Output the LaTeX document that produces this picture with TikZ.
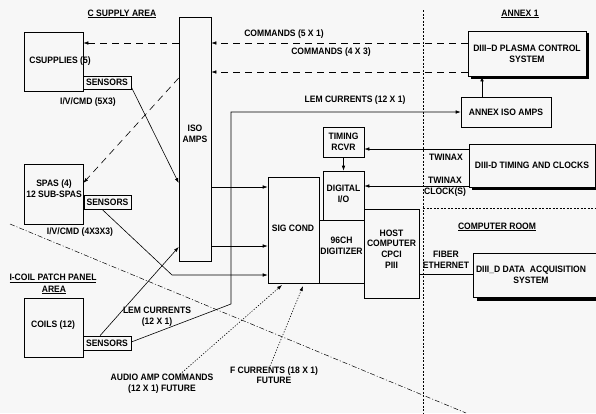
\documentclass[tikz,border=0pt]{standalone}
\usepackage{fontspec}
\setmainfont{Liberation Sans}[FakeStretch=0.92]
\usetikzlibrary{arrows.meta}
\begin{document}
\begin{tikzpicture}[x=1pt,y=-1pt,
  font=\fontsize{9.3}{10.6}\selectfont\bfseries,
  box/.style={draw, line width=0.6pt, inner sep=0pt, align=center},
  lbl/.style={inner sep=0pt, align=center},
  conn/.style={line width=0.6pt},
  arr/.style={conn, -{Latex[length=5pt,width=3.5pt]}},
  cmd/.style={arr, dash pattern=on 7pt off 5pt},
  fut/.style={arr, dash pattern=on 1.2pt off 1.6pt},
  region/.style={line width=0.5pt, dash pattern=on 2pt off 1.5pt},
  regiondiag/.style={line width=0.5pt, dash pattern=on 5pt off 2pt on 1pt off 2pt},
  shadowline/.style={line width=2.6pt}]
\fill[black!3] (0,0) rectangle (596,413);
\useasboundingbox (0,0) rectangle (596,413);

% region separators
\draw[region] (423,10) -- (423,413);
\draw[region] (423,208) -- (596,208);
\draw[regiondiag] (10,224) -- (466,413);

% area titles
\node[lbl] (tcsa) at (122,14) {\underline{C SUPPLY AREA}};
\node[lbl] (tann) at (520,14) {\underline{ANNEX 1}};
\node[lbl] (tcr) at (497,227) {\underline{COMPUTER ROOM}};
\node[lbl] (ticp) at (53,278) {\underline{I-COIL PATCH PANEL}};
\node[lbl] (ticp2) at (54,290) {\underline{AREA}};

% boxes
\node[box, minimum width=59pt, minimum height=59pt] (csup) at (53.5,61.5) {};
\node[lbl] (csupt) at (60,61) {CSUPPLIES (5)};
\node[box, minimum width=48pt, minimum height=13pt] (csens) at (107,82.5) {SENSORS};
\node[box, minimum width=32pt, minimum height=244pt] (iso) at (195,139) {};
\node[lbl] (isot) at (195,134) {ISO\\AMPS};
\node[box, minimum width=59pt, minimum height=60pt] (spas) at (53.5,194) {};
\node[lbl] (spast) at (54,188.5) {SPAS (4)\\12 SUB-SPAS};
\node[box, minimum width=47pt, minimum height=14pt] (ssens) at (107.5,202) {SENSORS};
\node[box, minimum width=59pt, minimum height=59pt] (coils) at (53.5,327.5) {};
\node[lbl] (coilst) at (53,325) {COILS (12)};
\node[box, minimum width=48pt, minimum height=14pt] (lsens) at (107,343) {SENSORS};
\node[box, minimum width=51pt, minimum height=106pt] (sig) at (293.5,230) {};
\node[lbl] (sigt) at (293,228) {SIG COND};
\node[box, minimum width=41pt, minimum height=30pt] (trcvr) at (343.5,142) {TIMING\\RCVR};
\node[box, minimum width=41pt, minimum height=49pt] (dio) at (343.5,195.5) {};
\node[lbl] (diot) at (343.5,194) {DIGITAL\\I/O};
\node[box, minimum width=45pt, minimum height=63pt] (dig) at (341.5,251.5) {};
\node[lbl] (digt) at (341.5,246) {96CH\\DIGITIZER};
\node[box, minimum width=55pt, minimum height=89pt] (host) at (391.5,253.5) {};
\node[lbl] (hostt) at (391.5,249) {HOST\\COMPUTER\\CPCI\\PIII};
\node[box, minimum width=118pt, minimum height=45pt] (pcs) at (527,53.5) {DIII--D PLASMA CONTROL\\SYSTEM};
\node[box, minimum width=90pt, minimum height=30pt] (aiso) at (506,112) {ANNEX ISO AMPS};
\node[box, minimum width=126pt, minimum height=43pt] (tclk) at (532,165.5) {DIII-D TIMING AND CLOCKS};
\node[box, minimum width=124pt, minimum height=44pt] (daq) at (535,275) {};
\node[lbl] (daqt) at (531,275) {DIII\_D DATA~~ACQUISITION\\SYSTEM};

% shadows
\draw[shadowline] (471,78) -- (588,78) -- (588,33);
\draw[shadowline] (472,189) -- (597,189);
\draw[shadowline] (477,299.5) -- (597,299.5);

% connector labels
\node[lbl] (lc5) at (284,34) {COMMANDS (5 X 1)};
\node[lbl] (lc4) at (331,52) {COMMANDS (4 X 3)};
\node[lbl] (liv1) at (88,102) {I/V/CMD (5X3)};
\node[lbl] (liv2) at (80,232) {I/V/CMD (4X3X3)};
\node[lbl] (llem1) at (355,100) {LEM CURRENTS (12 X 1)};
\node[lbl] (llem2) at (157,317) {LEM CURRENTS\\(12 X 1)};
\node[lbl] (ltw1) at (446,157) {TWINAX};
\node[lbl] (ltw2) at (445,186.5) {TWINAX\\CLOCK(S)};
\node[lbl] (lfib) at (446,260) {FIBER\\ETHERNET};
\node[lbl] (laud) at (162,384) {AUDIO AMP COMMANDS\\(12 X 1) FUTURE};
\node[lbl] (lfc) at (274,375) {F CURRENTS (18 X 1)\\FUTURE};

% connectors
\draw[cmd] (pcs.west |- 0,43) -- (iso.east |- 0,43);
\draw[cmd] (iso.west |- 0,43) -- (csup.east |- 0,43);
\draw[cmd] (pcs.west |- 0,72) -- (iso.east |- 0,72);
\draw[cmd] (iso.west |- 0,78) -- (spas.east |- 0,183);
\draw[arr] (csens.east |- 0,87) -- (iso.west |- 0,183);
\draw[arr] (ssens.south -| 102,0) -- (172,275) -- (sig.west |- 0,275);
\draw[arr] (iso.east |- 0,187) -- (sig.west |- 0,187);
\draw[arr] (iso.east |- 0,246) -- (sig.west |- 0,246);
\draw[arr] (lsens.north -| 100,0) -- (iso.west |- 0,247);
\draw[arr] (lsens.east |- 0,342) -- (231,304) -- (231,112) -- (aiso.west |- 0,112);
\draw[arr] (aiso.north -| 482,0) -- (pcs.south -| 482,0);
\draw[arr] (tclk.west |- 0,149) -- (trcvr.east |- 0,149);
\draw[arr] (tclk.west |- 0,186) -- (dio.east |- 0,186);
\draw[arr] (trcvr.south) -- (dio.north);
\draw[conn] (host.east |- 0,274) -- (daq.west |- 0,274);
\draw[fut] (laud.north -| 180,0) -- (282,285);
\draw[fut] (lfc.north -| 270,0) -- (303,286);
\end{tikzpicture}
\end{document}
